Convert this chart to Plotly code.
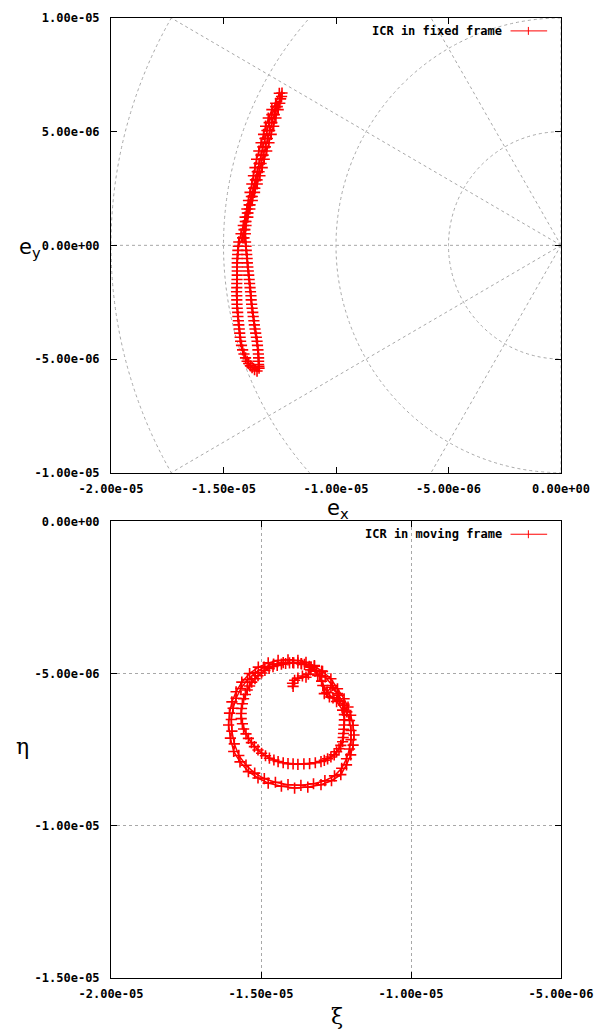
import plotly.graph_objects as go
import numpy as np

MICRO = 1e-6

# ---------------- data (in units of 1e-6) ----------------
# ICR in fixed frame (e_x, e_y) -- two passes around the thin crescent
ex_fixed = [
    # pass 1, down the left side
    -12.52, -12.68, -12.85, -13.01, -13.13, -13.22, -13.33, -13.43, -13.53, -13.60,
    -13.67, -13.74, -13.82, -13.89, -13.96, -14.04, -14.12, -14.22, -14.32,
    -14.36, -14.39, -14.39, -14.39, -14.41, -14.42, -14.41, -14.39, -14.36, -14.32,
    -14.28, -14.24, -14.15, -14.02, -13.88, -13.73, -13.51,
    # pass 1, up the right side
    -13.42, -13.44, -13.44, -13.47, -13.51, -13.57, -13.63, -13.68, -13.73, -13.77,
    -13.80, -13.84, -13.88, -13.92, -13.95, -13.99,
    -14.02, -14.03, -14.00, -13.92, -13.83, -13.72, -13.62, -13.50, -13.38, -13.28,
    -13.19, -13.08, -12.98, -12.88, -12.77, -12.67, -12.57, -12.50, -12.42, -12.40,
    # pass 2, down
    -12.47, -12.68, -12.85, -12.97, -13.07, -13.16, -13.25, -13.33, -13.42, -13.50,
    -13.58, -13.66, -13.76, -13.86, -13.94, -14.03, -14.09, -14.15,
    -14.34, -14.37, -14.39, -14.39, -14.40, -14.41, -14.41, -14.40, -14.37, -14.34,
    -14.30, -14.26, -14.20, -14.09, -13.95, -13.80, -13.62,
    # pass 2, up
    -13.43, -13.44, -13.45, -13.49, -13.54, -13.60, -13.65, -13.70, -13.75, -13.78,
    -13.82, -13.86, -13.90, -13.94, -13.97, -14.00,
    -14.09, -14.05, -14.00, -13.91, -13.82, -13.72, -13.61, -13.51, -13.42, -13.33,
    -13.24, -13.14, -13.05, -12.95, -12.85, -12.74, -12.61, -12.46,
]
ey_fixed = [
    6.69, 6.25, 5.97, 5.60, 5.24, 4.88, 4.51, 4.15, 3.79, 3.42,
    3.06, 2.70, 2.33, 1.97, 1.60, 1.24, 0.87, 0.51, 0.15,
    -0.22, -0.58, -0.95, -1.31, -1.68, -2.04, -2.40, -2.77, -3.13, -3.50,
    -3.86, -4.22, -4.60, -4.95, -5.20, -5.38, -5.53,
    -5.40, -5.24, -4.95, -4.60, -4.22, -3.86, -3.50, -3.13, -2.77, -2.40,
    -2.04, -1.68, -1.31, -0.95, -0.58, -0.22,
    0.15, 0.51, 0.87, 1.24, 1.60, 1.97, 2.33, 2.70, 3.06, 3.42,
    3.79, 4.15, 4.51, 4.88, 5.24, 5.60, 5.97, 6.25, 6.55, 6.70,
    6.45, 6.10, 5.75, 5.40, 5.05, 4.70, 4.33, 3.97, 3.60, 3.24,
    2.88, 2.51, 2.15, 1.78, 1.42, 1.05, 0.69, 0.33,
    -0.04, -0.40, -0.77, -1.13, -1.50, -1.86, -2.22, -2.59, -2.95, -3.32,
    -3.68, -4.04, -4.40, -4.78, -5.10, -5.30, -5.47,
    -5.32, -5.10, -4.78, -4.40, -4.04, -3.68, -3.32, -2.95, -2.59, -2.22,
    -1.86, -1.50, -1.13, -0.77, -0.40, -0.04,
    0.33, 0.69, 1.05, 1.42, 1.78, 2.15, 2.51, 2.88, 3.24, 3.60,
    3.97, 4.33, 4.70, 5.05, 5.40, 5.75, 6.10, 6.45,
]

# ICR in moving frame (xi, eta)
xi_moving = [
    # start hook
    -13.93, -13.95, -13.88, -13.77, -13.62, -13.50, -13.42, -13.35, -13.22,
    # outer loop
    -12.95, -12.67, -12.45, -12.23, -12.10, -12.01, -11.93, -11.90, -11.93, -12.01,
    -12.15, -12.34, -12.65, -13.00, -13.44, -13.88, -14.32, -14.76, -15.10, -15.42,
    -15.70, -15.91, -16.02, -16.08, -16.05, -15.97, -15.83, -15.64, -15.38, -15.09,
    -14.76, -14.43, -14.10, -13.77, -13.50, -13.22, -12.98,
    # kink on the right
    -13.05, -12.94, -12.89, -12.72, -12.39, -12.45, -12.67, -12.80, -12.60, -12.23,
    # inner loop
    -12.22, -12.23, -12.25, -12.28, -12.40, -12.56, -12.78, -13.00, -13.38, -13.77,
    -14.10, -14.43, -14.72, -14.98, -15.22, -15.42, -15.58, -15.66, -15.65, -15.58,
    -15.46, -15.31, -15.10, -14.87, -14.60, -14.32, -14.05, -13.77, -13.55, -13.33,
    -13.20, -13.11,
    # outer loop, second pass
    -12.86, -12.62, -12.41, -12.24, -12.14, -12.05, -12.00, -12.00, -12.05, -12.15,
    -12.31, -12.55, -12.87, -13.25, -13.67, -14.10, -14.52, -14.89, -15.21, -15.50,
    -15.74, -15.89, -15.97, -15.99, -15.93, -15.83, -15.67, -15.45, -15.19, -14.90,
    -14.58, -14.26, -13.94, -13.65, -13.39,
    # kink, second pass
    -13.15, -12.98, -12.80, -12.48, -12.28,
    # inner loop, second pass
    -12.22, -12.24, -12.26, -12.34, -12.48, -12.67, -12.89, -13.19, -13.57, -13.93,
    -14.26, -14.57, -14.85, -15.10, -15.32, -15.50, -15.62, -15.66, -15.62, -15.52,
    -15.38, -15.20, -14.98, -14.73, -14.46, -14.18, -13.91, -13.66,
]
eta_moving = [
    -5.42, -5.32, -5.22, -5.15, -5.08, -5.12, -5.02, -4.88, -4.76,
    -4.93, -5.17, -5.50, -5.83, -6.10, -6.37, -6.70, -7.02, -7.35, -7.67,
    -8.00, -8.32, -8.52, -8.65, -8.73, -8.76, -8.70, -8.60, -8.43, -8.22,
    -7.90, -7.56, -7.12, -6.69, -6.30, -5.93, -5.60, -5.28, -5.00, -4.79,
    -4.65, -4.57, -4.55, -4.57, -4.63, -4.74, -4.92,
    -5.07, -5.39, -5.66, -5.77, -5.88, -5.66, -5.45, -5.62, -5.80, -6.04,
    -6.35, -6.69, -6.97, -7.24, -7.47, -7.67, -7.80, -7.89, -7.96, -7.98,
    -7.96, -7.89, -7.78, -7.62, -7.40, -7.13, -6.82, -6.48, -6.15, -5.83,
    -5.54, -5.28, -5.07, -4.90, -4.77, -4.69, -4.65, -4.65, -4.70, -4.79,
    -4.92, -5.06,
    -5.11, -5.39, -5.71, -6.00, -6.26, -6.54, -6.87, -7.17, -7.48, -7.80,
    -8.11, -8.36, -8.52, -8.62, -8.67, -8.65, -8.57, -8.45, -8.27, -8.01,
    -7.69, -7.31, -6.89, -6.51, -6.14, -5.81, -5.49, -5.20, -4.97, -4.79,
    -4.69, -4.64, -4.64, -4.68, -4.76,
    -4.90, -5.25, -5.62, -5.92, -6.20,
    -6.52, -6.83, -7.10, -7.36, -7.57, -7.74, -7.85, -7.93, -7.97, -7.97,
    -7.93, -7.84, -7.70, -7.51, -7.27, -6.98, -6.65, -6.31, -5.99, -5.69,
    -5.41, -5.17, -4.98, -4.83, -4.73, -4.67, -4.65, -4.67,
]
assert len(ex_fixed) == len(ey_fixed)
assert len(xi_moving) == len(eta_moving)

# axes ticks
top_x_ticks = [-2.0e-5, -1.5e-5, -1.0e-5, -5.0e-6, 0.0]
top_x_labels = ["-2.00e-05", "-1.50e-05", "-1.00e-05", "-5.00e-06", "0.00e+00"]
top_y_ticks = [-1.0e-5, -5.0e-6, 0.0, 5.0e-6, 1.0e-5]
top_y_labels = ["-1.00e-05", "-5.00e-06", "0.00e+00", "5.00e-06", "1.00e-05"]
bot_x_ticks = [-2.0e-5, -1.5e-5, -1.0e-5, -5.0e-6]
bot_x_labels = ["-2.00e-05", "-1.50e-05", "-1.00e-05", "-5.00e-06"]
bot_y_ticks = [-1.5e-5, -1.0e-5, -5.0e-6, 0.0]
bot_y_labels = ["-1.50e-05", "-1.00e-05", "-5.00e-06", "0.00e+00"]

# polar grid of the top panel
polar_radii = [5e-6, 1e-5, 1.5e-5, 2e-5]
polar_angles_deg = [90, 120, 150, 180, 210, 240, 270]

legend_top = "ICR in fixed frame"
legend_bot = "ICR in moving frame"

# ---------------- figure ----------------
W, H = 605, 1034
ML, MR, MT, MB = 111, 39, 11, 56
red = "#ff0000"
grid_col = "#a8a8a8"
tick_font = dict(family="DejaVu Sans Mono", size=12, color="black", weight="bold")

fig = go.Figure()

marker = dict(symbol="cross-thin", size=8, line=dict(color=red, width=1.6), color=red)
fig.add_trace(go.Scatter(
    x=np.array(ex_fixed) * MICRO, y=np.array(ey_fixed) * MICRO,
    mode="lines+markers", line=dict(color=red, width=1.5), marker=marker,
    name=legend_top, showlegend=False, xaxis="x", yaxis="y"))
fig.add_trace(go.Scatter(
    x=np.array(xi_moving) * MICRO, y=np.array(eta_moving) * MICRO,
    mode="lines+markers", line=dict(color=red, width=1.5), marker=marker,
    name=legend_bot, showlegend=False, xaxis="x2", yaxis="y2"))

plot_h = H - MT - MB
top_px = (11, 469)
bot_px = (518, 978)
def py2paper(py):
    return 1 - (py - MT) / plot_h
def px2paper(px):
    return (px - ML) / (W - ML - MR)

axis_common = dict(showline=True, linecolor="black", linewidth=1, mirror="ticks",
                   ticks="inside", ticklen=6, tickcolor="black", tickfont=tick_font,
                   zeroline=False, tickmode="array")

fig.update_layout(
    width=W, height=H, margin=dict(l=ML, r=MR, t=MT, b=MB),
    paper_bgcolor="white", plot_bgcolor="white", showlegend=False,
    xaxis=dict(domain=[0, 1], range=[-2e-5, 0], anchor="y",
               tickvals=top_x_ticks, ticktext=top_x_labels, showgrid=False,
               ticklabelstandoff=5, **axis_common),
    yaxis=dict(domain=[py2paper(top_px[1]), 1], range=[-1e-5, 1e-5], anchor="x",
               tickvals=top_y_ticks, ticktext=top_y_labels, showgrid=False,
               ticklabelstandoff=8, **axis_common),
    xaxis2=dict(domain=[0, 1], range=[-2e-5, -5e-6], anchor="y2",
                tickvals=bot_x_ticks, ticktext=bot_x_labels, showgrid=True,
                gridcolor=grid_col, griddash="dot", gridwidth=1,
                ticklabelstandoff=5, **axis_common),
    yaxis2=dict(domain=[0, py2paper(bot_px[0])], range=[-1.5e-5, 0], anchor="x2",
                tickvals=bot_y_ticks, ticktext=bot_y_labels, showgrid=True,
                gridcolor=grid_col, griddash="dot", gridwidth=1,
                ticklabelstandoff=8, **axis_common),
)

shapes = []
for r in polar_radii:
    shapes.append(dict(type="circle", xref="x", yref="y", x0=-r, x1=r, y0=-r, y1=r,
                       line=dict(color=grid_col, width=1, dash="dot"), layer="below"))
for a in polar_angles_deg:
    t = np.deg2rad(a)
    L = 3e-5
    shapes.append(dict(type="line", xref="x", yref="y", x0=0, y0=0,
                       x1=L * np.cos(t), y1=L * np.sin(t),
                       line=dict(color=grid_col, width=1, dash="dot"), layer="below"))

# gnuplot-style key samples (line with a + mark), text to the left
annotations = []
for text, ytop in ((legend_top, top_px[0]), (legend_bot, bot_px[0])):
    yk = py2paper(ytop + 13)
    annotations.append(dict(text=text, xref="paper", yref="paper", x=px2paper(508), y=yk,
                            xanchor="right", yanchor="middle", showarrow=False,
                            font=tick_font))
    shapes.append(dict(type="line", xref="paper", yref="paper",
                       x0=px2paper(515), x1=px2paper(552), y0=yk, y1=yk,
                       line=dict(color=red, width=1)))
    shapes.append(dict(type="line", xref="paper", yref="paper",
                       x0=px2paper(533), x1=px2paper(533),
                       y0=yk - 4 / plot_h, y1=yk + 4 / plot_h,
                       line=dict(color=red, width=1)))

title_font = dict(family="DejaVu Sans", size=21, color="black")
greek_font = dict(family="DejaVu Serif", size=22, color="black")
annotations += [
    dict(text="e<sub>x</sub>", xref="paper", yref="paper", x=px2paper(341), y=py2paper(506),
         xanchor="center", yanchor="middle", showarrow=False, font=title_font, borderpad=0),
    dict(text="e<sub>y</sub>", xref="paper", yref="paper", x=px2paper(29), y=py2paper(243),
         xanchor="center", yanchor="middle", showarrow=False, font=title_font),
    dict(text="η", xref="paper", yref="paper", x=px2paper(22), y=py2paper(745),
         xanchor="center", yanchor="middle", showarrow=False, font=greek_font),
    dict(text="ξ", xref="paper", yref="paper", x=px2paper(340), y=py2paper(1017),
         xanchor="center", yanchor="middle", showarrow=False, font=greek_font),
]

fig.update_layout(shapes=shapes, annotations=annotations)
fig.write_html("out.html", config={"displayModeBar": False},
               post_script="document.body.style.margin='0';document.body.style.overflow='hidden';")
